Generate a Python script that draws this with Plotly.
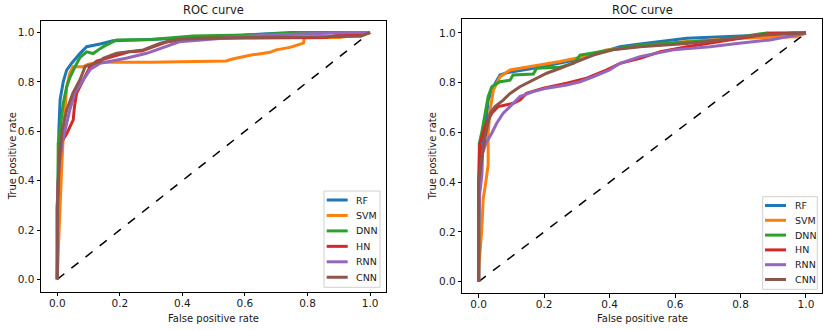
import plotly.graph_objects as go

models = ["RF", "SVM", "DNN", "HN", "RNN", "CNN"]
colors = ["#1f77b4", "#ff7f0e", "#2ca02c", "#d62728", "#9467bd", "#8c564b"]

# ---- Left panel (FPR, TPR) ----
left_fpr = {
    "RF":  [0, 0.003, 0.005, 0.009, 0.017, 0.019, 0.03, 0.046, 0.073, 0.094, 0.137, 0.178, 0.3, 0.45, 0.6, 0.75, 1.0],
    "SVM": [0, 0.003, 0.006, 0.014, 0.02, 0.03, 0.04, 0.05, 0.083, 0.1, 0.137, 0.3, 0.54, 0.56, 0.62, 0.68, 0.70, 0.744, 0.787, 0.79, 0.904, 0.95, 1.0],
    "DNN": [0, 0.002, 0.003, 0.009, 0.019, 0.03, 0.041, 0.057, 0.073, 0.094, 0.115, 0.137, 0.15, 0.19, 0.3, 0.435, 0.6, 0.79, 1.0],
    "HN":  [0, 0.0, 0.005, 0.01, 0.03, 0.045, 0.051, 0.055, 0.062, 0.083, 0.105, 0.126, 0.178, 0.23, 0.27, 0.31, 0.35, 0.46, 0.7, 0.86, 0.9, 1.0],
    "RNN": [0, 0.0, 0.005, 0.015, 0.04, 0.056, 0.083, 0.105, 0.137, 0.22, 0.286, 0.35, 0.39, 0.56, 0.67, 0.95, 1.0],
    "CNN": [0, 0.0, 0.005, 0.015, 0.03, 0.05, 0.073, 0.089, 0.137, 0.147, 0.19, 0.275, 0.33, 0.39, 0.6, 0.97, 1.0],
}
left_tpr = {
    "RF":  [0, 0.3, 0.6, 0.727, 0.79, 0.8, 0.848, 0.876, 0.916, 0.943, 0.954, 0.967, 0.972, 0.98, 0.99, 1.0, 1.0],
    "SVM": [0, 0.08, 0.2, 0.45, 0.6, 0.78, 0.835, 0.862, 0.862, 0.872, 0.88, 0.88, 0.885, 0.893, 0.909, 0.92, 0.93, 0.94, 0.957, 0.979, 0.98, 0.99, 1.0],
    "DNN": [0, 0.3, 0.55, 0.605, 0.714, 0.78, 0.82, 0.862, 0.9, 0.922, 0.915, 0.935, 0.945, 0.97, 0.972, 0.986, 0.99, 1.0, 1.0],
    "HN":  [0, 0.3, 0.45, 0.55, 0.59, 0.63, 0.646, 0.7, 0.755, 0.808, 0.862, 0.885, 0.902, 0.922, 0.925, 0.943, 0.963, 0.977, 0.98, 0.98, 0.99, 1.0],
    "RNN": [0, 0.3, 0.45, 0.55, 0.686, 0.755, 0.808, 0.85, 0.876, 0.896, 0.916, 0.943, 0.963, 0.98, 0.99, 1.0, 1.0],
    "CNN": [0, 0.28, 0.45, 0.6, 0.686, 0.755, 0.81, 0.862, 0.882, 0.896, 0.916, 0.93, 0.957, 0.973, 0.98, 0.985, 1.0],
}

# ---- Right panel (FPR, TPR) ----
right_fpr = {
    "RF":  [0, 0.0, 0.009, 0.019, 0.029, 0.045, 0.065, 0.086, 0.177, 0.249, 0.32, 0.38, 0.432, 0.493, 0.555, 0.636, 0.84, 0.96, 1.0],
    "SVM": [0, 0.0, 0.009, 0.014, 0.019, 0.024, 0.029, 0.029, 0.035, 0.045, 0.065, 0.096, 0.157, 0.249, 0.32, 0.39, 0.534, 0.636, 0.8, 0.97, 1.0],
    "DNN": [0, 0.0, 0.002, 0.009, 0.019, 0.029, 0.04, 0.065, 0.096, 0.105, 0.167, 0.177, 0.249, 0.29, 0.31, 0.37, 0.432, 0.493, 0.738, 0.84, 0.88, 1.0],
    "HN":  [0, 0.0, 0.003, 0.019, 0.04, 0.06, 0.106, 0.126, 0.146, 0.198, 0.269, 0.33, 0.39, 0.432, 0.493, 0.555, 0.636, 0.697, 0.8, 0.89, 1.0],
    "RNN": [0, 0.0, 0.003, 0.01, 0.012, 0.022, 0.04, 0.055, 0.075, 0.106, 0.126, 0.167, 0.208, 0.269, 0.31, 0.35, 0.4, 0.432, 0.493, 0.595, 0.707, 0.789, 0.89, 0.962, 1.0],
    "CNN": [0, 0.0, 0.01, 0.022, 0.035, 0.05, 0.075, 0.096, 0.126, 0.167, 0.208, 0.249, 0.3, 0.35, 0.41, 0.493, 0.636, 0.738, 0.84, 0.98, 1.0],
}
right_tpr = {
    "RF":  [0, 0.4, 0.53, 0.597, 0.73, 0.784, 0.831, 0.84, 0.86, 0.878, 0.898, 0.925, 0.945, 0.956, 0.965, 0.979, 0.99, 1.0, 1.0],
    "SVM": [0, 0.05, 0.2, 0.335, 0.375, 0.416, 0.469, 0.597, 0.69, 0.77, 0.824, 0.851, 0.864, 0.885, 0.905, 0.932, 0.952, 0.966, 0.979, 0.985, 1.0],
    "DNN": [0, 0.4, 0.556, 0.597, 0.677, 0.744, 0.784, 0.804, 0.81, 0.831, 0.835, 0.858, 0.862, 0.878, 0.911, 0.925, 0.938, 0.952, 0.972, 0.992, 1.0, 1.0],
    "HN":  [0, 0.4, 0.55, 0.623, 0.677, 0.704, 0.717, 0.73, 0.757, 0.778, 0.798, 0.818, 0.851, 0.878, 0.898, 0.925, 0.945, 0.958, 0.979, 0.998, 1.0],
    "RNN": [0, 0.2, 0.35, 0.43, 0.517, 0.556, 0.597, 0.637, 0.677, 0.717, 0.744, 0.764, 0.778, 0.791, 0.804, 0.824, 0.851, 0.878, 0.905, 0.932, 0.945, 0.958, 0.972, 0.99, 1.0],
    "CNN": [0, 0.4, 0.5, 0.597, 0.677, 0.704, 0.73, 0.757, 0.784, 0.81, 0.838, 0.858, 0.885, 0.911, 0.932, 0.945, 0.958, 0.972, 0.99, 0.998, 1.0],
}

chance_line = [0, 1]
tick_vals = [0.0, 0.2, 0.4, 0.6, 0.8, 1.0]
tick_text = ["0.0", "0.2", "0.4", "0.6", "0.8", "1.0"]
title_text = "ROC curve"
x_title = "False positive rate"
y_title = "True positive rate"

W, H = 829, 330
FONT = "DejaVu Sans"
TXT = "#1a1a1a"

fig = go.Figure()

panels = [
    (left_fpr, left_tpr, "x", "y"),
    (right_fpr, right_tpr, "x2", "y2"),
]
for fpr, tpr, xa, ya in panels:
    fig.add_trace(go.Scatter(x=chance_line, y=chance_line, mode="lines",
                             line=dict(color="black", width=1.5, dash="dash"),
                             showlegend=False, xaxis=xa, yaxis=ya, hoverinfo="skip"))
    for m, c in zip(models, colors):
        fig.add_trace(go.Scatter(x=fpr[m], y=tpr[m], mode="lines", name=m,
                                 line=dict(color=c, width=3), showlegend=False,
                                 xaxis=xa, yaxis=ya))

def ax(domain, anchor, rng, standoff):
    return dict(domain=domain, anchor=anchor, range=rng, automargin=False,
                tickvals=tick_vals, ticktext=tick_text,
                showgrid=False, zeroline=False, showline=True, mirror=True,
                linecolor="black", linewidth=1, ticks="outside", ticklen=3.5,
                tickwidth=1, tickcolor="black", ticklabelstandoff=standoff,
                tickfont=dict(family=FONT, size=10.5, color=TXT))

# pixel geometry of the two frames
lx0, lx1 = 41, 386
rx0, rx1 = 462.3, 822
ly_top, ly_bot = 21, 291.7
ry_top, ry_bot = 19.3, 293.3

annotations = []
shapes = []
for (x0, x1, yt, yb, ylab_x) in [(lx0, lx1, ly_top, ly_bot, 12), (rx0, rx1, ry_top, ry_bot, 432)]:
    cx = (x0 + x1) / 2 / W
    annotations.append(dict(text=title_text, x=cx, y=1 - 10 / H, xref="paper", yref="paper",
                            showarrow=False, font=dict(family=FONT, size=11.5, color=TXT),
                            xanchor="center", yanchor="middle"))
    annotations.append(dict(text=x_title, x=cx, y=1 - 318 / H, xref="paper", yref="paper",
                            showarrow=False, font=dict(family=FONT, size=10, color=TXT),
                            xanchor="center", yanchor="middle"))
    annotations.append(dict(text=y_title, x=ylab_x / W, y=1 - ((yt + yb) / 2) / H,
                            xref="paper", yref="paper", textangle=-90,
                            showarrow=False, font=dict(family=FONT, size=10, color=TXT),
                            xanchor="center", yanchor="middle"))

# legend boxes (matplotlib-style), entries from models/colors
legend_specs = [
    # box x0, x1, y0, y1, line x0, x1, text x, first entry y, step
    (324, 380, 191, 287.3, 326.7, 347.7, 354, 200, 15.45),
    (762.7, 817.3, 196.7, 289.3, 765, 786, 792.5, 205.5, 14.8),
]
for bx0, bx1, by0, by1, lx_a, lx_b, tx, ey0, step in legend_specs:
    shapes.append(dict(type="rect", xref="paper", yref="paper",
                       x0=bx0 / W, x1=bx1 / W, y0=1 - by1 / H, y1=1 - by0 / H,
                       line=dict(color="#d0d0d0", width=1), fillcolor="rgba(255,255,255,0.85)",
                       layer="above"))
    for i, (m, c) in enumerate(zip(models, colors)):
        yy = 1 - (ey0 + i * step) / H
        shapes.append(dict(type="line", xref="paper", yref="paper",
                           x0=lx_a / W, x1=lx_b / W, y0=yy, y1=yy,
                           line=dict(color=c, width=3), layer="above"))
        annotations.append(dict(text=m, x=tx / W, y=yy, xref="paper", yref="paper",
                                showarrow=False, font=dict(family=FONT, size=9.5, color=TXT),
                                xanchor="left", yanchor="middle"))

fig.update_layout(
    width=W, height=H,
    margin=dict(l=0, r=0, t=0, b=0, autoexpand=False),
    paper_bgcolor="white", plot_bgcolor="white",
    font=dict(family=FONT, color=TXT),
    showlegend=False,
    xaxis=ax([lx0 / W, lx1 / W], "y", [-0.052, 1.051], -2),
    yaxis=ax([1 - ly_bot / H, 1 - ly_top / H], "x", [-0.05, 1.047], 0),
    xaxis2=ax([rx0 / W, rx1 / W], "y2", [-0.05, 1.049], -2),
    yaxis2=ax([1 - ry_bot / H, 1 - ry_top / H], "x2", [-0.047, 1.055], 0),
    annotations=annotations,
    shapes=shapes,
)

fig.write_html(
    "out.html",
    config={"displayModeBar": False},
    post_script="document.body.style.margin='0';document.body.style.padding='0';document.body.style.overflow='hidden';",
)
